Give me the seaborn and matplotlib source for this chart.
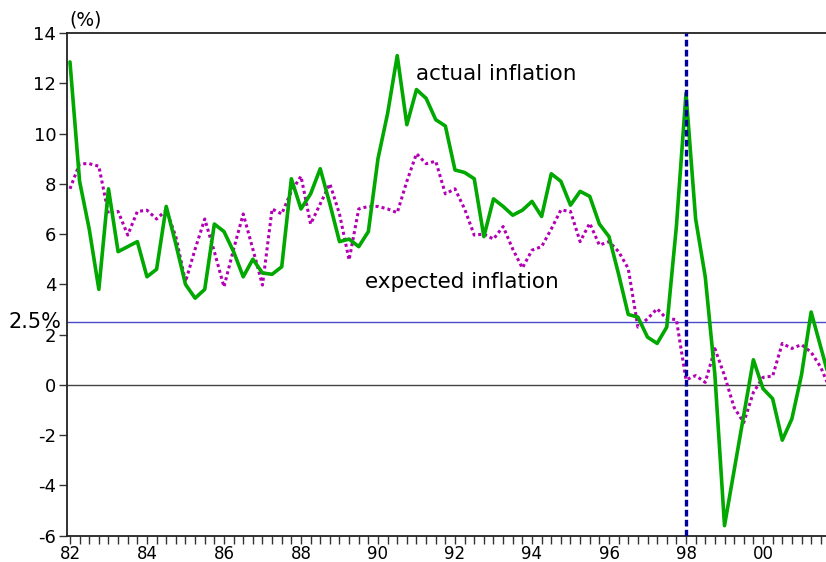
import numpy as np
import pandas as pd
import seaborn as sns
import matplotlib.pyplot as plt
from matplotlib.ticker import MultipleLocator, FixedLocator

# quarterly, 1982Q1 .. 2001Q4 (years written as 82, 83, ... 101)
quarters = np.arange(82, 102, 0.25)

actual = [
    12.85, 8.1, 6.2, 3.8,
    7.8, 5.3, 5.5, 5.7,
    4.3, 4.6, 7.1, 5.6,
    4.0, 3.45, 3.8, 6.4,
    6.1, 5.3, 4.3, 5.0,
    4.45, 4.4, 4.7, 8.2,
    7.0, 7.6, 8.6, 7.2,
    5.7, 5.8, 5.5, 6.1,
    9.0, 10.8, 13.1, 10.35,
    11.75, 11.4, 10.55, 10.3,
    8.55, 8.45, 8.2, 5.9,
    7.4, 7.1, 6.75, 6.95,
    7.3, 6.7, 8.4, 8.1,
    7.15, 7.7, 7.5, 6.4,
    5.9, 4.4, 2.8, 2.7,
    1.9, 1.65, 2.3, 6.3,
    11.6, 6.6, 4.3, 0.4,
    -5.6, -3.4, -1.2, 1.0,
    -0.15, -0.55, -2.2, -1.35,
    0.4, 2.9, 1.5, 0.1,
]

expected = [
    7.8, 8.8, 8.8, 8.7,
    6.8, 6.9, 5.96, 6.9,
    6.95, 6.6, 6.95, 5.9,
    4.1, 5.4, 6.6, 5.3,
    3.9, 5.4, 6.8, 5.4,
    3.97, 7.0, 6.8, 7.7,
    8.3, 6.4, 7.2, 8.0,
    6.8, 4.97, 7.0, 7.1,
    7.1, 7.0, 6.85, 8.1,
    9.2, 8.8, 8.9, 7.6,
    7.8, 7.0, 5.96, 6.0,
    5.8, 6.3, 5.4, 4.65,
    5.36, 5.5, 6.2, 6.96,
    6.9, 5.7, 6.43, 5.56,
    5.7, 5.3, 4.63, 2.3,
    2.63, 3.03, 2.63, 2.6,
    0.2, 0.37, 0.1, 1.44,
    0.37, -0.9, -1.5, -0.3,
    0.3, 0.35, 1.65, 1.45,
    1.6, 1.3, 0.7, -0.2,
]

target = 2.5
crisis_year = 98
year_ticks = [82, 84, 86, 88, 90, 92, 94, 96, 98, 100]
year_labels = ['82', '84', '86', '88', '90', '92', '94', '96', '98', '00']

df = pd.DataFrame({'t': quarters, 'actual': actual, 'expected': expected})

sns.set_style('ticks')
plt.rcParams['font.family'] = ['DejaVu Sans']
plt.rcParams['axes.unicode_minus'] = False
plt.rcParams['text.color'] = 'black'

fig = plt.figure(figsize=(8.26, 5.62), dpi=100)
ax = fig.add_axes([0.0807, 0.0468, 0.9193, 0.8945])

ax.axhline(0, color='#444444', lw=1.0, zorder=1)
ax.axhline(target, color='#4a4ac8', lw=1.0, zorder=1)

sns.lineplot(data=df, x='t', y='expected', ax=ax, color='#b400b4',
             linewidth=2.2, linestyle=(0, (1, 1)), zorder=2)
sns.lineplot(data=df, x='t', y='actual', ax=ax, color='#00a800',
             linewidth=2.6, zorder=3)

ax.axvline(crisis_year, color='#0000a0', lw=2.4, linestyle=(0, (2, 1)), zorder=4)

ax.set_xlim(81.914, 101.636)
ax.set_ylim(-6, 14)
ax.set_xlabel('')
ax.set_ylabel('')

ax.xaxis.set_major_locator(FixedLocator(year_ticks))
ax.set_xticklabels(year_labels)
ax.xaxis.set_minor_locator(MultipleLocator(0.25))
ax.yaxis.set_major_locator(MultipleLocator(2))

ax.tick_params(axis='both', which='both', direction='out', length=5.5,
               width=1.0, color='#333333', labelcolor='black')
ax.tick_params(axis='y', pad=2, labelsize=13)
ax.tick_params(axis='x', pad=1.5, labelsize=12)

for side in ['left', 'top', 'bottom']:
    ax.spines[side].set_visible(True)
    ax.spines[side].set_color('#222222')
    ax.spines[side].set_linewidth(1.3)
ax.spines['right'].set_visible(False)

ax.text(91.0, 12.35, 'actual inflation', fontsize=15.5, ha='left', va='center')
ax.text(89.65, 4.1, 'expected inflation', fontsize=15.5, ha='left', va='center')
ax.text(-0.076, target, '2.5%', fontsize=15, ha='left', va='center',
        transform=ax.get_yaxis_transform(), clip_on=False)
ax.text(0.004, 1.026, '(%)', fontsize=13.5, ha='left', va='center',
        transform=ax.transAxes, clip_on=False)

fig.savefig('out.png', dpi=100)
